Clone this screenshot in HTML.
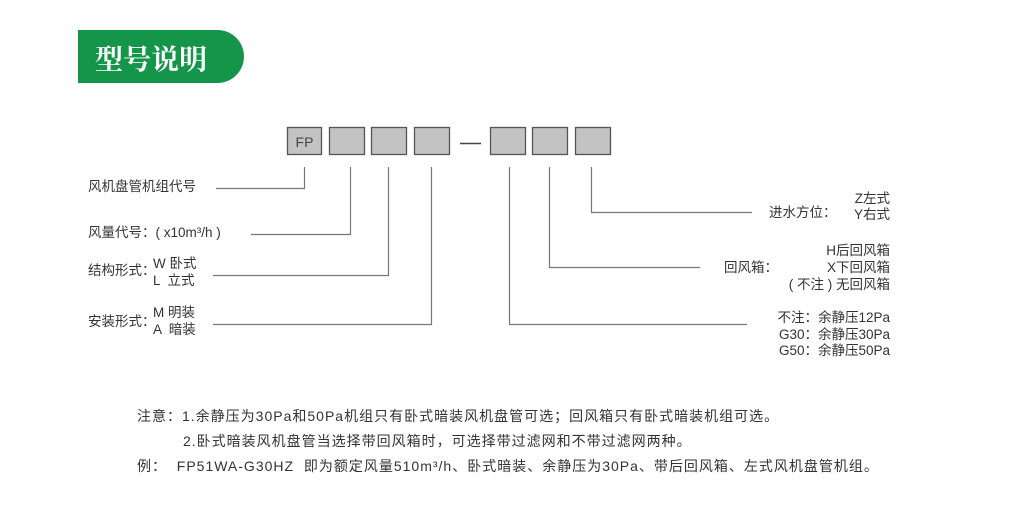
<!DOCTYPE html>
<html><head><meta charset="utf-8"><style>
body{margin:0;width:1012px;height:513px;background:#fff;position:relative;overflow:hidden;font-family:"Liberation Sans","Noto Sans CJK SC",sans-serif;color:#333;font-size:13.5px}
.t{position:absolute;white-space:nowrap;line-height:16px}
.r{text-align:right}
.n{font-size:14px;letter-spacing:1px}
#hdr{position:absolute;left:78px;top:30px;width:166px;height:53px;background:#14954a;border-radius:0 27px 27px 0}
#hdr span{position:absolute;left:17px;top:8px;color:#fff;font:bold 28px "Noto Serif CJK SC",serif;letter-spacing:0px}
</style></head><body>
<div id="hdr"><span>型号说明</span></div>
<svg width="1012" height="513" style="position:absolute;left:0;top:0">
<g fill="#c3c3c3" stroke="#555" stroke-width="1.3">
<rect x="287.5" y="127.5" width="34" height="27"/>
<rect x="329.5" y="127.5" width="35" height="27"/>
<rect x="371.5" y="127.5" width="35" height="27"/>
<rect x="414.5" y="127.5" width="35" height="27"/>
<rect x="490.5" y="127.5" width="35" height="27"/>
<rect x="532.5" y="127.5" width="35" height="27"/>
<rect x="575.5" y="127.5" width="35" height="27"/>
</g>
<text x="304.5" y="147" font-size="14" fill="#444" text-anchor="middle" font-family="Liberation Sans">FP</text>
<line x1="460" y1="143.5" x2="481" y2="143.5" stroke="#444" stroke-width="1.5"/>
<g fill="none" stroke="#777" stroke-width="1.2">
<polyline points="216,188.5 304.5,188.5 304.5,167"/>
<polyline points="251,234.5 350.5,234.5 350.5,167"/>
<polyline points="213,275.5 388.5,275.5 388.5,167"/>
<polyline points="213,324.5 431.5,324.5 431.5,167"/>
<polyline points="747,324.5 509.5,324.5 509.5,167"/>
<polyline points="700,267.5 549.5,267.5 549.5,167"/>
<polyline points="752,212.5 591.5,212.5 591.5,167"/>
</g>
</svg>
<div class="t" style="left:88px;top:179px">风机盘管机组代号</div>
<div class="t" style="left:88px;top:225px">风量代号：( x10m³/h )</div>
<div class="t" style="left:88px;top:263px">结构形式：</div>
<div class="t" style="left:153px;top:256px">W 卧式</div>
<div class="t" style="left:153px;top:273px">L &nbsp;立式</div>
<div class="t" style="left:88px;top:314px">安装形式：</div>
<div class="t" style="left:153px;top:305px">M 明装</div>
<div class="t" style="left:153px;top:322px">A &nbsp;暗装</div>

<div class="t" style="left:769px;top:205px">进水方位：</div>
<div class="t r" style="right:122px;top:191px">Z左式</div>
<div class="t r" style="right:122px;top:207px">Y右式</div>
<div class="t" style="left:724px;top:260px">回风箱：</div>
<div class="t r" style="right:122px;top:243px">H后回风箱</div>
<div class="t r" style="right:122px;top:260px">X下回风箱</div>
<div class="t r" style="right:122px;top:277px">( 不注 ) 无回风箱</div>
<div class="t r" style="right:122px;top:310px">不注：余静压12Pa</div>
<div class="t r" style="right:122px;top:327px">G30：余静压30Pa</div>
<div class="t r" style="right:122px;top:343px">G50：余静压50Pa</div>

<div class="t n" style="left:137px;top:408px">注意：1.余静压为30Pa和50Pa机组只有卧式暗装风机盘管可选；回风箱只有卧式暗装机组可选。</div>
<div class="t n" style="left:183px;top:433px">2.卧式暗装风机盘管当选择带回风箱时，可选择带过滤网和不带过滤网两种。</div>
<div class="t n" style="left:137px;top:458px">例：&nbsp; FP51WA-G30HZ &nbsp;即为额定风量510m³/h、卧式暗装、余静压为30Pa、带后回风箱、左式风机盘管机组。</div>
</body></html>
